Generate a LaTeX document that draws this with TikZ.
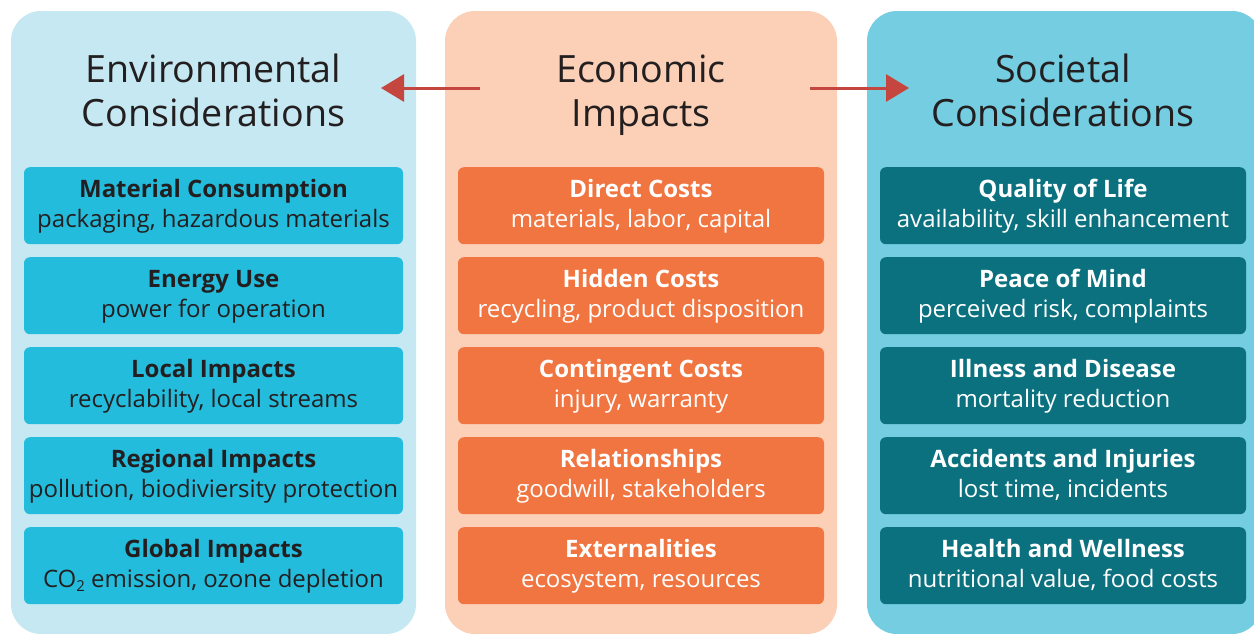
\documentclass[tikz,border=0pt]{standalone}
\usepackage{fontspec}
\setmainfont{Open Sans}
\usetikzlibrary{arrows.meta}
\definecolor{envbg}{HTML}{C6E8F2}
\definecolor{envbox}{HTML}{23BCDC}
\definecolor{ecobg}{HTML}{FBD0B7}
\definecolor{ecobox}{HTML}{F17540}
\definecolor{socbg}{HTML}{74CDE0}
\definecolor{socbox}{HTML}{0B717F}
\definecolor{darktext}{HTML}{231F20}
\definecolor{arrowred}{HTML}{C4463F}
\newcommand{\subtwo}{\raisebox{-0.35ex}{\fontsize{15}{15}\selectfont 2}}
\tikzset{
  panel/.style={fill=#1, draw=none, rounded corners=30pt},
  itembox/.style={fill=#1, draw=none, rounded corners=6pt, minimum height=77pt, inner sep=0pt},
  ptitle/.style={anchor=base, text=darktext, font=\fontsize{37.6}{46}\selectfont, inner sep=0pt},
  ihead/.style={anchor=base, font=\fontsize{24}{28}\selectfont\bfseries, inner sep=0pt},
  isub/.style={anchor=base, font=\fontsize{24}{28}\selectfont, inner sep=0pt},
  conn/.style={draw=arrowred, line width=3pt, -{Triangle[length=23pt,width=27pt]}}
}
\begin{document}
\begin{tikzpicture}[x=1pt,y=-1pt]
\useasboundingbox (0,0) rectangle (1254,633);
\clip (0,0) rectangle (1254,633);
\fill[white] (0,0) rectangle (1254,633);
% panels
\path[panel=envbg] (11,11) rectangle (416,634);
\path[panel=ecobg] (445,11) rectangle (837,634);
\path[panel=socbg] (867,11) rectangle (1262,634);
% titles
\node[ptitle] (envt1) at (213.5,82) {Environmental};
\node[ptitle] (envt2) at (213.5,126) {Considerations};
\node[ptitle] (ecot1) at (641,82) {Economic};
\node[ptitle] (ecot2) at (641,126) {Impacts};
\node[ptitle] (soct1) at (1063,82) {Societal};
\node[ptitle] (soct2) at (1063,126) {Considerations};
% arrows
\coordinate (aLs) at (480,88);
\coordinate (aLe) at (381,88);
\coordinate (aRs) at (810,88);
\coordinate (aRe) at (909,88);
\draw[conn] (aLs) -- (aLe);
\draw[conn] (aRs) -- (aRe);
% boxes
\foreach \col/\cx/\w/\fc/\tc/\nm in {0/213.5/379/envbox/darktext/env, 1/641/366/ecobox/white/eco, 2/1063/366/socbox/white/soc}{
  \foreach \r in {0,...,4}{
    \pgfmathsetmacro{\ty}{167+90*\r}
    \node[itembox=\fc, minimum width=\w pt, anchor=north] (\nm box\r) at (\cx,\ty) {};
  }
}
% left texts
\foreach \r/\h/\s in {
  0/Material Consumption/{packaging, hazardous materials},
  1/Energy Use/{power for operation},
  2/Local Impacts/{recyclability, local streams},
  3/Regional Impacts/{pollution, biodiviersity protection},
  4/Global Impacts/{CO\subtwo{} emission, ozone depletion}}{
  \node[ihead, text=darktext] (envh\r) at ([yshift=-30pt]envbox\r.north) {\h};
  \node[isub, text=darktext] (envs\r) at ([yshift=-60pt]envbox\r.north) {\s};
}
\foreach \r/\h/\s in {
  0/Direct Costs/{materials, labor, capital},
  1/Hidden Costs/{recycling, product disposition},
  2/Contingent Costs/{injury, warranty},
  3/Relationships/{goodwill, stakeholders},
  4/Externalities/{ecosystem, resources}}{
  \node[ihead, text=white] (ecoh\r) at ([yshift=-30pt]ecobox\r.north) {\h};
  \node[isub, text=white] (ecos\r) at ([yshift=-60pt]ecobox\r.north) {\s};
}
\foreach \r/\h/\s in {
  0/Quality of Life/{availability, skill enhancement},
  1/Peace of Mind/{perceived risk, complaints},
  2/Illness and Disease/{mortality reduction},
  3/Accidents and Injuries/{lost time, incidents},
  4/Health and Wellness/{nutritional value, food costs}}{
  \node[ihead, text=white] (soch\r) at ([yshift=-30pt]socbox\r.north) {\h};
  \node[isub, text=white] (socs\r) at ([yshift=-60pt]socbox\r.north) {\s};
}
\end{tikzpicture}
\end{document}
